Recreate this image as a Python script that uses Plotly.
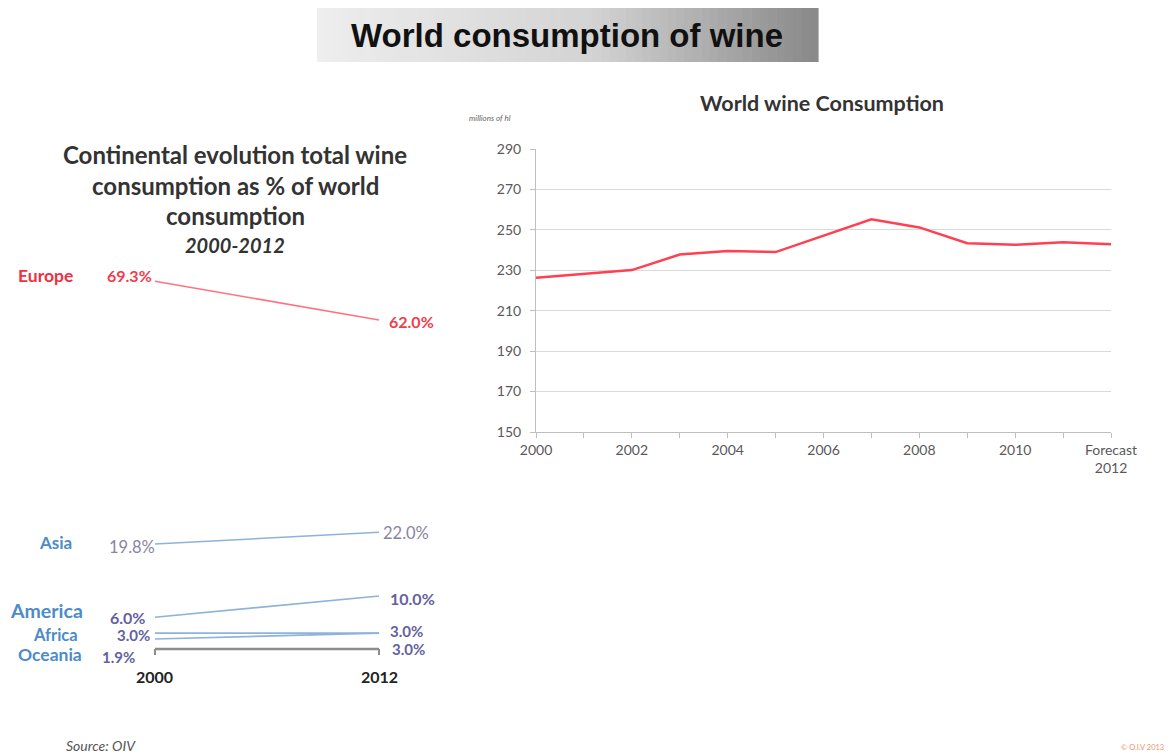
import plotly.graph_objects as go

# ---------------- data ----------------
years = ["2000", "2001", "2002", "2003", "2004", "2005", "2006",
         "2007", "2008", "2009", "2010", "2011", "Forecast 2012"]
year_ticktext = ["2000", "", "2002", "", "2004", "", "2006",
                 "", "2008", "", "2010", "", "Forecast<br>2012"]
consumption = [226.3, 228.3, 230.1, 237.8, 239.6, 239.0, 247.1,
               255.2, 251.2, 243.4, 242.6, 243.9, 242.9]

continents = ["Europe", "Asia", "America", "Africa", "Oceania"]
share_2000 = [69.3, 19.8, 6.0, 3.0, 1.9]
share_2012 = [62.0, 22.0, 10.0, 3.0, 3.0]
slope_years = [2000, 2012]

W, H = 1172, 755
def px(x): return x / W
def py(y): return 1 - y / H

# styles
line_colors = ["#FF7380", "#8DB3DB", "#8DB3DB", "#8DB3DB", "#8DB3DB"]
name_colors = ["#F0303F", "#4C8CC8", "#4C8CC8", "#4C8CC8", "#4C8CC8"]
name_pos = [(45, 275, 17.5), (55, 542, 17), (46, 610, 19.5), (55, 635, 16.5), (50, 654, 17.5)]
val_colors = ["#F23C4C", "#8884A6", "#6361A0", "#6361A0", "#6361A0"]
val_sizes = [16, 16.5, 16, 15, 15]
val_bold = [True, False, True, True, True]
left_nudge = [(-1, 6), (2, -3), (-8, 0), (-3, -2), (-18, -18)]
right_nudge = [(8, -1), (2, -1), (9, -2), (9, 2), (11, -16)]

FONT = "Lato"
fig = go.Figure()

# ---------- right chart ----------
fig.add_trace(go.Scatter(x=years, y=consumption, mode="lines",
                         line=dict(color="#FF4052", width=2.5),
                         xaxis="x", yaxis="y", showlegend=False, hoverinfo="x+y"))

# ---------- left slope chart ----------
for i, c in enumerate(continents):
    fig.add_trace(go.Scatter(x=slope_years, y=[share_2000[i], share_2012[i]],
                             mode="lines", line=dict(color=line_colors[i], width=1.6),
                             xaxis="x2", yaxis="y2", showlegend=False, name=c))

annotations = []
shapes = []

def ptext(text, x, y, size, color, family=FONT, xanchor="center"):
    annotations.append(dict(text=text, x=px(x), y=py(y), xref="paper", yref="paper",
                            xanchor=xanchor, yanchor="middle", showarrow=False,
                            font=dict(family=family, size=size, color=color)))

# title gradient box
x0, x1, y0, y1 = 317, 818, 8, 62
n = 60
for k in range(n):
    t = k / (n - 1)
    if t < 0.55:
        g = int(238 - (238 - 212) * (t / 0.55))
    else:
        g = int(212 - (212 - 138) * ((t - 0.55) / 0.45))
    shapes.append(dict(type="rect", xref="paper", yref="paper",
                       x0=px(x0 + (x1 - x0) * k / n), x1=px(x0 + (x1 - x0) * (k + 1) / n + 0.6),
                       y0=py(y1), y1=py(y0), line=dict(width=0),
                       fillcolor=f"rgb({g},{g},{g})", layer="below"))

ptext("<b>World consumption of wine</b>", 567, 36, 33, "#111111", family="Liberation Sans")

# right chart titles
ptext("<b>World wine Consumption</b>", 822, 103, 21.5, "#333333")
ptext("<i>millions of hl</i>", 467, 118, 8, "#666666", xanchor="left")

# left titles
for txt, yy in [("Continental evolution total wine", 155),
                ("consumption as % of world", 186),
                ("consumption", 216)]:
    ptext(f"<b>{txt}</b>", 235, yy, 24, "#333333")
ptext("<b><i>2000-2012</i></b>", 235, 245, 20, "#333333")

# continent names and value labels
for i, c in enumerate(continents):
    nx, ny, ns = name_pos[i]
    ptext(f"<b>{c}</b>", nx, ny, ns, name_colors[i])
    for yr, vals, anc, nud in [(2000, share_2000, "right", left_nudge[i]),
                               (2012, share_2012, "left", right_nudge[i])]:
        t = f"{vals[i]:.1f}%"
        if val_bold[i]:
            t = f"<b>{t}</b>"
        annotations.append(dict(text=t, x=yr, y=vals[i], xref="x2", yref="y2",
                                xanchor=anc, yanchor="middle", showarrow=False,
                                xshift=nud[0], yshift=nud[1],
                                font=dict(family=FONT, size=val_sizes[i], color=val_colors[i])))

# slope axis labels
for yr in slope_years:
    annotations.append(dict(text=f"<b>{yr}</b>", x=yr, y=0, xref="x2", yref="y2",
                            xanchor="center", yanchor="middle", yshift=-27, showarrow=False,
                            font=dict(family=FONT, size=16, color="#222222")))

# slope axis bracket
shapes.append(dict(type="line", xref="x2", yref="y2", x0=2000, x1=2012, y0=0, y1=0,
                   line=dict(color="#8C8C8C", width=2.5)))
for yr in slope_years:
    shapes.append(dict(type="line", xref="x2", yref="y2", x0=yr, x1=yr, y0=-1.1, y1=0,
                       line=dict(color="#8C8C8C", width=2)))

# footer
ptext("<i>Source: OIV</i>", 64, 745, 14, "#555555", xanchor="left")
ptext("© O.I.V 2013", 1166, 747, 7.5, "#E8956B", xanchor="right")

fig.update_layout(
    width=W, height=H, margin=dict(l=0, r=0, t=0, b=0, autoexpand=False),
    paper_bgcolor="white", plot_bgcolor="white",
    font=dict(family=FONT),
    xaxis=dict(domain=[px(536), px(1111)], type="category", range=[0, 12],
               tickvals=years, ticktext=year_ticktext, automargin=False,
               showline=True, linecolor="#BFBFBF", linewidth=1,
               ticks="outside", ticklen=5, tickcolor="#BFBFBF",
               showgrid=False, zeroline=False,
               tickfont=dict(family=FONT, size=14, color="#595959"),
               anchor="y"),
    yaxis=dict(domain=[py(432), py(149)], range=[150, 290], tick0=150, dtick=20,
               showline=True, linecolor="#BFBFBF", linewidth=1, automargin=False,
               ticks="outside", ticklen=5, tickcolor="#BFBFBF",
               gridcolor="#D9D9D9", gridwidth=1, zeroline=False,
               ticklabelstandoff=6,
               tickfont=dict(family=FONT, size=14, color="#595959"),
               anchor="x"),
    xaxis2=dict(domain=[px(136.3), px(397.7)], range=[1999, 2013], visible=False, anchor="y2"),
    yaxis2=dict(domain=[py(665), py(251)], range=[-3, 75], visible=False, anchor="x2"),
    annotations=annotations, shapes=shapes,
)

fig.write_html("out.html")
